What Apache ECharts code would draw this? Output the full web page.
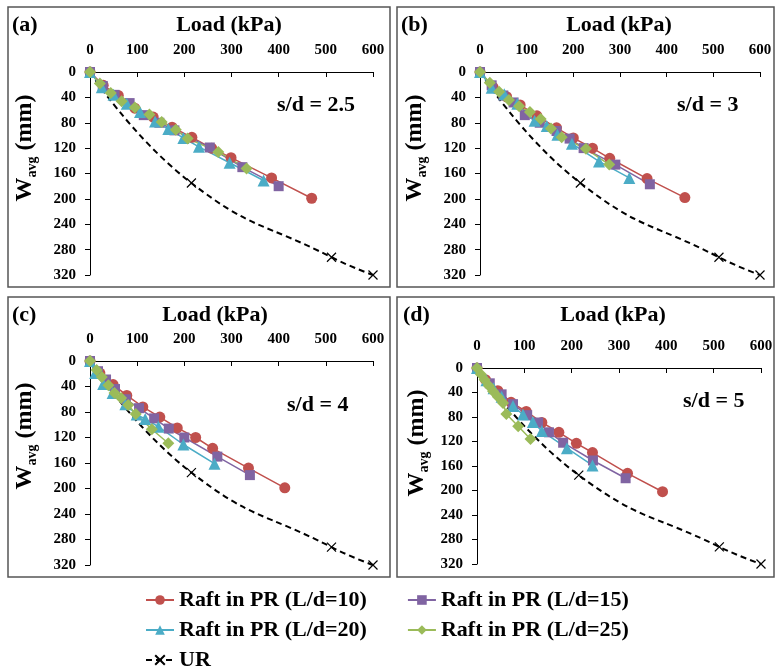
<!DOCTYPE html>
<html><head><meta charset="utf-8">
<script src="https://cdn.jsdelivr.net/npm/echarts/dist/echarts.min.js"></script>
<style>html,body{margin:0;padding:0;background:#fff}#c{width:776px;height:670px}</style>
</head><body><div id="c"></div>
<script>
// ---- data ----
const seriesNames = ['Raft in PR (L/d=10)', 'Raft in PR (L/d=15)', 'Raft in PR (L/d=20)', 'Raft in PR (L/d=25)', 'UR'];
const panelLabels = ['(a)', '(b)', '(c)', '(d)'];
const spacingLabels = ['s/d = 2.5', 's/d = 3', 's/d = 4', 's/d = 5'];
const loadMin = 0, loadMax = 600, loadStep = 100;
const settleMin = 0, settleMax = 320, settleStep = 40;

// UR (unpiled raft), same in every panel: [load kPa, settlement mm]
const urCurve = [[0, 0], [215, 175], [512, 292], [600, 320]];

// (a) s/d = 2.5
const a_L10 = [[0,0],[28,21],[60,37],[95,57],[134,71],[174,87],[216,103],[258,120],[299,135],[385,167],[470,199]];
const a_L15 = [[0,0],[27,22],[52,36],[84,49],[114,68],[147,80],[179,92],[254,119],[323,150],[400,180]];
const a_L20 = [[0,0],[25,24],[50,36],[78,50],[106,63],[138,78],[166,90],[198,104],[231,118],[296,143],[368,171]];
const a_L25 = [[0,0],[21,18],[44,33],[67,46],[95,56],[126,67],[152,79],[182,91],[207,105],[272,126],[332,152]];
// (b) s/d = 3
const b_L10 = [[0,0],[28,24],[57,39],[86,52],[122,69],[164,88],[200,104],[241,120],[278,136],[358,168],[439,198]];
const b_L15 = [[0,0],[25,21],[50,37],[72,48],[96,68],[128,80],[164,93],[192,105],[222,120],[290,146],[364,177]];
const b_L20 = [[0,0],[25,25],[52,35],[80,50],[117,77],[143,85],[166,99],[197,113],[255,141],[320,167]];
const b_L25 = [[0,0],[21,17],[41,31],[62,44],[84,54],[107,63],[130,74],[152,89],[175,103],[227,121],[277,146]];
// (c) s/d = 4
const c_L10 = [[0,0],[21,19],[49,37],[78,54],[112,72],[148,88],[185,105],[224,120],[260,137],[336,168],[413,199]];
const c_L15 = [[0,0],[17,16],[34,29],[53,44],[76,60],[104,74],[136,90],[167,106],[200,120],[270,150],[339,179]];
const c_L20 = [[0,0],[11,19],[28,36],[48,50],[75,68],[99,84],[117,91],[145,103],[198,131],[264,161]];
const c_L25 = [[0,0],[14,14],[25,25],[39,38],[52,50],[66,58],[81,69],[97,83],[131,107],[166,129]];
// (d) s/d = 5
const d_L10 = [[0,0],[18,19],[44,37],[72,56],[104,71],[137,89],[173,105],[210,123],[244,138],[318,172],[392,202]];
const d_L15 = [[0,0],[27,25],[52,43],[76,59],[106,77],[129,89],[152,105],[182,122],[245,151],[314,180]];
const d_L20 = [[0,0],[20,20],[35,33],[52,47],[76,62],[97,76],[118,88],[137,103],[190,131],[244,159]];
const d_L25 = [[0,0],[8,10],[16,19],[25,29],[34,38],[44,47],[55,57],[62,75],[87,95],[113,116]];

const panels = [
  [a_L10, a_L15, a_L20, a_L25],
  [b_L10, b_L15, b_L20, b_L25],
  [c_L10, c_L15, c_L20, c_L25],
  [d_L10, d_L15, d_L20, d_L25]
];

// ---- layout / style ----
const FONT = "'Liberation Serif','Times New Roman',serif";
const grids = [
  {left: 90, top: 72, width: 283, height: 203},
  {left: 480, top: 72, width: 280, height: 203},
  {left: 90, top: 361, width: 283, height: 204},
  {left: 477, top: 368, width: 284, height: 196}
];
const boxes = [[8, 7, 382, 280], [397, 7, 377, 280], [8, 297, 382, 280], [397, 297, 377, 280]];
const labelPos = [[12, 25], [401, 25], [12, 315], [403, 315]];
const titlePos = [[229, 25], [619, 25], [215, 315], [613, 315]];
const sdPos = [[277, 105], [677, 105], [287, 405], [683, 401]];
const yNamePos = [[25, 148], [415, 148], [25, 436], [417, 443]];

const styles = [
  {color: '#C0504D', symbol: 'circle', size: 11},
  {color: '#8064A2', symbol: 'rect', size: 10},
  {color: '#4BACC6', symbol: 'triangle', size: 12},
  {color: '#9BBB59', symbol: 'path://M0,-1L1,0L0,1L-1,0Z', size: 12}
];

const xAxes = [], yAxes = [], series = [], graphic = [];
grids.forEach((g, i) => {
  xAxes.push({
    type: 'value', gridIndex: i, position: 'top', min: loadMin, max: loadMax, interval: loadStep,
    axisLine: {show: true, onZero: false, lineStyle: {color: '#000', width: 1}},
    axisTick: {show: true, inside: true, length: 5, lineStyle: {color: '#000'}},
    splitLine: {show: false},
    axisLabel: {color: '#000', fontFamily: FONT, fontWeight: 'bold', fontSize: 15, margin: 14}
  });
  yAxes.push({
    type: 'value', gridIndex: i, inverse: true, min: settleMin, max: settleMax, interval: settleStep,
    axisLine: {show: true, onZero: false, lineStyle: {color: '#000', width: 1}},
    axisTick: {show: true, length: 5, lineStyle: {color: '#000'}},
    splitLine: {show: false},
    axisLabel: {color: '#000', fontFamily: FONT, fontWeight: 'bold', fontSize: 15, margin: 14}
  });
  series.push({
    name: seriesNames[4], type: 'line', xAxisIndex: i, yAxisIndex: i, data: urCurve, smooth: 0.5,
    symbol: 'path://M-1,-1L1,1M1,-1L-1,1', symbolSize: 9,
    itemStyle: {color: '#000', borderColor: '#000', borderWidth: 1.2},
    lineStyle: {color: '#000', width: 2, type: [6, 4]}
  });
  panels[i].forEach((d, k) => {
    const s = styles[k];
    series.push({
      name: seriesNames[k], type: 'line', xAxisIndex: i, yAxisIndex: i, data: d,
      symbol: s.symbol, symbolSize: s.size,
      itemStyle: {color: s.color},
      lineStyle: {color: s.color, width: 1.5}
    });
  });
  const b = boxes[i];
  graphic.push({type: 'rect', shape: {x: b[0], y: b[1], width: b[2], height: b[3]},
    style: {fill: 'none', stroke: '#555', lineWidth: 1.5}, silent: true});
  graphic.push({type: 'text', x: labelPos[i][0], y: labelPos[i][1],
    style: {text: panelLabels[i], font: `bold 22px ${FONT}`, fill: '#000', textAlign: 'left', textVerticalAlign: 'middle'}});
  graphic.push({type: 'text', x: titlePos[i][0], y: titlePos[i][1],
    style: {text: 'Load (kPa)', font: `bold 22px ${FONT}`, fill: '#000', textAlign: 'center', textVerticalAlign: 'middle'}});
  graphic.push({type: 'text', x: sdPos[i][0], y: sdPos[i][1],
    style: {text: spacingLabels[i], font: `bold 22px ${FONT}`, fill: '#000', textAlign: 'left', textVerticalAlign: 'middle'}});
  graphic.push({type: 'text', x: yNamePos[i][0], y: yNamePos[i][1], rotation: Math.PI / 2,
    style: {text: '{w|W}{s|avg}{w| (mm)}', fill: '#000', textAlign: 'center', textVerticalAlign: 'middle',
      rich: {
        w: {fontFamily: FONT, fontWeight: 'bold', fontSize: 24, lineHeight: 28, verticalAlign: 'middle'},
        s: {fontFamily: FONT, fontWeight: 'bold', fontSize: 14, lineHeight: 28, verticalAlign: 'bottom', padding: [10, 0, 0, 0]}
      }}});
});

const legendBase = {
  itemWidth: 28, itemHeight: 12, itemGap: 40, orient: 'horizontal',
  textStyle: {fontFamily: FONT, fontWeight: 'bold', fontSize: 22, color: '#000'}
};
const option = {
  animation: false,
  backgroundColor: '#fff',
  grid: grids,
  xAxis: xAxes,
  yAxis: yAxes,
  series: series,
  graphic: graphic,
  legend: [
    Object.assign({}, legendBase, {left: 140, top: 584, data: [seriesNames[0], seriesNames[1]]}),
    Object.assign({}, legendBase, {left: 140, top: 614, data: [seriesNames[2], seriesNames[3]]}),
    Object.assign({}, legendBase, {left: 140, top: 644, data: [seriesNames[4]]})
  ]
};
const chart = echarts.init(document.getElementById('c'), null, {renderer: 'canvas'});
chart.setOption(option);
</script></body></html>
